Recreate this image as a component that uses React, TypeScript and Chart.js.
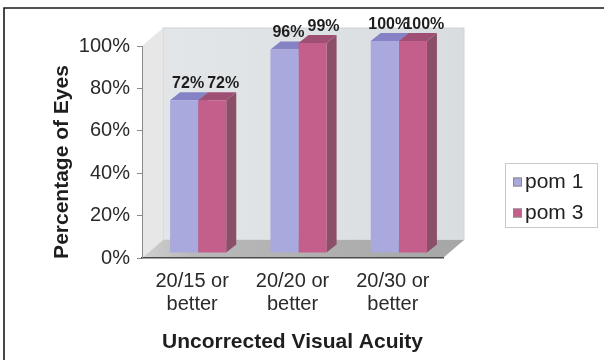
import { useEffect, useRef } from "react";
import { Chart, registerables } from "chart.js";

Chart.register(...registerables);

// ---- data ----
const categories: string[][] = [
  ["20/15 or", "better"],
  ["20/20 or", "better"],
  ["20/30 or", "better"],
];
const seriesNames = ["pom 1", "pom 3"];
const pom1Values = [72, 96, 100];
const pom3Values = [72, 99, 100];
const yMin = 0;
const yMax = 100;
const yStep = 20;
const yTitle = "Percentage of Eyes";
const xTitle = "Uncorrected Visual Acuity";

// ---- styling ----
const FONT = '"Liberation Sans", Arial, Helvetica, sans-serif';
const WALL_DEPTH = { x: 21, y: -18 }; // depth of the box behind the front plane
const BAR_SHIFT = { x: 6, y: -5 }; // bars sit a little inside the box
const BAR_DEPTH = { x: 10, y: -8 }; // thickness of each bar
const LABEL_NUDGE = [-1, 6];

const faces = [
  { front: "#a9a9dd", top: "#8583c5", side: "#7675b0" },
  { front: "#c45f8c", top: "#a04f74", side: "#8c4f68" },
];

function poly(ctx: CanvasRenderingContext2D, pts: number[][], fill: string | CanvasGradient) {
  ctx.beginPath();
  ctx.moveTo(pts[0][0], pts[0][1]);
  for (let i = 1; i < pts.length; i++) ctx.lineTo(pts[i][0], pts[i][1]);
  ctx.closePath();
  ctx.fillStyle = fill;
  ctx.fill();
}

const scenePlugin = {
  id: "scene3d",
  beforeDraw(chart: any) {
    const { ctx, width, height } = chart;
    const { left: L, right: R, top: T, bottom: B } = chart.chartArea;
    const dx = WALL_DEPTH.x;
    const dy = WALL_DEPTH.y;
    ctx.save();
    ctx.fillStyle = "#ffffff";
    ctx.fillRect(0, 0, width, height);

    // outer frame
    ctx.strokeStyle = "#1a1a1a";
    ctx.lineWidth = 1.6;
    ctx.beginPath();
    ctx.moveTo(4, height + 2);
    ctx.lineTo(4, 8);
    ctx.lineTo(width + 2, 8);
    ctx.stroke();

    // back wall
    const wallGrad = ctx.createLinearGradient(L + dx, 0, R + dx, 0);
    wallGrad.addColorStop(0, "#e3e6e8");
    wallGrad.addColorStop(1, "#d9dde0");
    poly(ctx, [[L + dx, T + dy], [R + dx, T + dy], [R + dx, B + dy], [L + dx, B + dy]], wallGrad);
    ctx.strokeStyle = "#cfd2d4";
    ctx.lineWidth = 1;
    ctx.strokeRect(L + dx, T + dy, R - L, B - T);

    // side wall
    poly(ctx, [[L, T], [L + dx, T + dy], [L + dx, B + dy], [L, B]], "#e7e7e7");

    // floor
    const floorGrad = ctx.createLinearGradient(L, 0, R + dx, 0);
    floorGrad.addColorStop(0, "#d0d0d0");
    floorGrad.addColorStop(0.15, "#b9b9b9");
    floorGrad.addColorStop(1, "#a6a6a6");
    poly(ctx, [[L, B], [L + dx, B + dy], [R + dx, B + dy], [R, B]], floorGrad);
    ctx.restore();
  },
  beforeDatasetsDraw(chart: any) {
    const { ctx } = chart;
    ctx.save();
    ctx.translate(BAR_SHIFT.x, BAR_SHIFT.y);
    const metas = chart.data.datasets.map((_: any, i: number) => chart.getDatasetMeta(i));
    const n = chart.data.labels.length;
    for (let i = 0; i < n; i++) {
      metas.forEach((meta: any, d: number) => {
        const bar = meta.data[i];
        if (!bar) return;
        const { x, y, base, width } = bar.getProps(["x", "y", "base", "width"], true);
        const l = x - width / 2;
        const r = x + width / 2;
        const bx = BAR_DEPTH.x;
        const by = BAR_DEPTH.y;
        poly(ctx, [[r, y], [r + bx, y + by], [r + bx, base + by], [r, base]], faces[d].side);
        poly(ctx, [[l, y], [l + bx, y + by], [r + bx, y + by], [r, y]], faces[d].top);
      });
    }
  },
  afterDatasetsDraw(chart: any) {
    const { ctx } = chart;
    ctx.font = `bold 16px ${FONT}`;
    ctx.fillStyle = "#1e1e1e";
    ctx.textAlign = "center";
    ctx.textBaseline = "alphabetic";
    chart.data.datasets.forEach((ds: any, d: number) => {
      const meta = chart.getDatasetMeta(d);
      meta.data.forEach((bar: any, i: number) => {
        const { x, y } = bar.getProps(["x", "y"], true);
        ctx.fillText(`${ds.data[i]}%`, x + BAR_DEPTH.x / 2 + LABEL_NUDGE[d], y + BAR_DEPTH.y - 4);
      });
    });
    ctx.restore();
  },
  afterDraw(chart: any) {
    const { ctx } = chart;
    ctx.save();
    // vertical axis title
    ctx.translate(62, 162);
    ctx.rotate(-Math.PI / 2);
    ctx.font = `bold 21px ${FONT}`;
    ctx.fillStyle = "#1e1e1e";
    ctx.textAlign = "center";
    ctx.textBaseline = "middle";
    ctx.fillText(yTitle, 0, 0);
    ctx.restore();

    // legend
    ctx.save();
    ctx.strokeStyle = "#c9c9c9";
    ctx.lineWidth = 1;
    ctx.strokeRect(505.5, 163.5, 92, 64);
    ctx.font = `21px ${FONT}`;
    ctx.textAlign = "left";
    ctx.textBaseline = "middle";
    chart.data.datasets.forEach((ds: any, d: number) => {
      const cy = 182 + d * 31;
      ctx.fillStyle = ds.backgroundColor;
      ctx.fillRect(513, cy - 4.5, 9, 9);
      ctx.strokeStyle = "#888";
      ctx.strokeRect(513.5, cy - 4, 8, 8);
      ctx.fillStyle = "#222";
      ctx.fillText(ds.label, 525, cy);
    });
    ctx.restore();
  },
};

export default function App() {
  const canvasRef = useRef<HTMLCanvasElement | null>(null);

  useEffect(() => {
    if (!canvasRef.current) return;
    const chart = new Chart(canvasRef.current, {
      type: "bar",
      data: {
        labels: categories,
        datasets: [
          {
            label: seriesNames[0],
            data: pom1Values,
            backgroundColor: faces[0].front,
            categoryPercentage: 0.56,
            barPercentage: 1,
            clip: false,
          },
          {
            label: seriesNames[1],
            data: pom3Values,
            backgroundColor: faces[1].front,
            categoryPercentage: 0.56,
            barPercentage: 1,
            clip: false,
          },
        ],
      },
      options: {
        responsive: false,
        animation: false,
        devicePixelRatio: 1,
        layout: { padding: { left: 0, top: 46, right: 161, bottom: 5 } },
        plugins: {
          legend: { display: false },
          tooltip: { enabled: false },
        },
        scales: {
          x: {
            grid: { display: false, drawTicks: false },
            border: { display: true, color: "#4a4a4a", width: 1.5 },
            ticks: {
              padding: 12,
              color: "#2a2a2a",
              font: { family: FONT, size: 20, lineHeight: 1.15 },
              maxRotation: 0,
            },
            title: {
              display: true,
              text: xTitle,
              color: "#1e1e1e",
              font: { family: FONT, size: 21, weight: "bold" },
              padding: { top: 0, bottom: 0 },
            },
            afterFit: (scale: any) => {
              scale.height = 97;
            },
          },
          y: {
            min: yMin,
            max: yMax,
            grid: {
              display: true,
              drawOnChartArea: false,
              drawTicks: true,
              tickLength: 5,
              color: "#8a8a8a",
            },
            border: { display: true, color: "#8a8a8a", width: 1 },
            ticks: {
              stepSize: yStep,
              padding: 7,
              color: "#2a2a2a",
              font: { family: FONT, size: 20 },
              callback: (v: any) => `${v}%`,
            },
            afterFit: (scale: any) => {
              scale.width = 142;
            },
          },
        },
      },
      plugins: [scenePlugin],
    });
    return () => chart.destroy();
  }, []);

  return (
    <div style={{ position: "fixed", left: 0, top: 0, width: 604, height: 360, background: "#fff" }}>
      <canvas ref={canvasRef} width={604} height={360} style={{ display: "block" }} />
    </div>
  );
}
